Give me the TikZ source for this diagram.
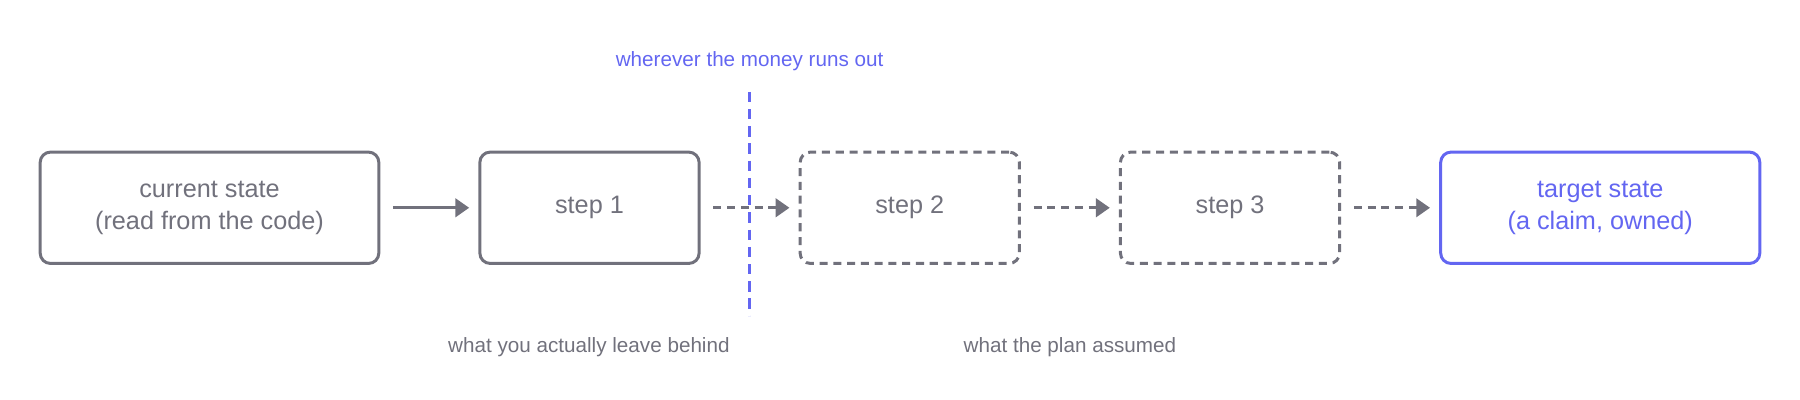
\documentclass[tikz,border=0pt]{standalone}
\usepackage{fontspec}
\setmainfont{Liberation Sans}
\usetikzlibrary{arrows.meta}
\definecolor{gr}{HTML}{71717C}
\definecolor{bl}{HTML}{6366F1}
\begin{document}
\begin{tikzpicture}[x=1pt,y=-1pt,
  box/.style={draw=gr,line width=2.6pt,rounded corners=9pt,text=gr,font=\fontsize{22}{28}\selectfont,align=center,inner sep=0pt},
  dbox/.style={box,dash pattern=on 7pt off 5pt},
  tbox/.style={box,draw=bl,text=bl},
  arr/.style={draw=gr,line width=2.6pt,-{Triangle[length=12pt,width=16pt]}},
  darr/.style={arr,dash pattern=on 7pt off 5pt},
  lbl/.style={text=gr,font=\fontsize{18}{22}\selectfont}]
\useasboundingbox (0,0) rectangle (1568,348);
\node[box,minimum width=295pt,minimum height=97pt] (cur) at (182.5,181) {current state\\(read from the code)};
\node[box,minimum width=191pt,minimum height=97pt] (s1) at (513.5,181) {step 1};
\node[dbox,minimum width=191pt,minimum height=97pt] (s2) at (792.5,181) {step 2};
\node[dbox,minimum width=191pt,minimum height=97pt] (s3) at (1071.5,181) {step 3};
\node[tbox,minimum width=278pt,minimum height=97pt] (tg) at (1394,181) {target state\\(a claim, owned)};
\draw[arr] ([xshift=11pt]cur.east) -- ([xshift=-8pt]s1.west);
\draw[darr] ([xshift=11pt]s1.east) -- ([xshift=-8pt]s2.west);
\draw[darr] ([xshift=11pt]s2.east) -- ([xshift=-8pt]s3.west);
\draw[darr] ([xshift=11pt]s3.east) -- ([xshift=-8pt]tg.west);
\coordinate (vt) at (653,80); \coordinate (vb) at (653,275);
\draw[bl,line width=2.4pt,dash pattern=on 9pt off 6pt] (vt) -- (vb);
\node[lbl,text=bl] (money) at (653,53) {wherever the money runs out};
\node[lbl] (leave) at (513,302) {what you actually leave behind};
\node[lbl] (plan) at (932,302) {what the plan assumed};
\end{tikzpicture}
\end{document}
